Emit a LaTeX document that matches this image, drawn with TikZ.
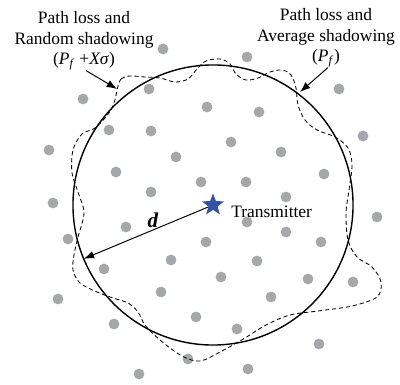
\documentclass[tikz,border=0pt]{standalone}
\usepackage{fontspec}
\setmainfont{Liberation Serif}
\usepackage{tikz}
\usetikzlibrary{shapes.geometric,arrows.meta,positioning,calc}

\definecolor{dotgray}{RGB}{166,167,170}
\definecolor{starblue}{RGB}{52,82,162}

\begin{document}
\begin{tikzpicture}[
    x=0.025cm, y=-0.025cm,
    lbl/.style={align=center, inner sep=0pt, font=\fontsize{12.4}{14.6}\selectfont},
    user/.style={circle, fill=dotgray, inner sep=0pt, minimum size=0.27cm},
    tx/.style={star, star points=5, star point ratio=2.4, fill=starblue, inner sep=0pt, minimum size=0.58cm},
    arr/.style={-{Latex[length=2.6mm, width=1.9mm]}, line width=0.7pt},
    rim/.style={line width=1pt},
    shadow/.style={line width=0.6pt, dash pattern=on 3pt off 2pt}
]
    \useasboundingbox (0,0) rectangle (400,385);

    % users spread over the area
    \foreach \x/\y [count=\k] in {163/49, 149/89, 83/99, 247/57, 339/89, 207/107, 259/112,
        109/130, 151/131, 49/150, 176/157, 116/172, 201/182, 151/192, 53/203, 126/227,
        68/239, 171/260, 231/142, 363/136, 281/152, 324/174, 246/182, 286/197, 377/217,
        247/222, 286/232, 206/242, 321/242, 257/261, 104/269, 161/292, 58/299, 196/317,
        114/324, 188/359, 139/374, 221/277, 308/279, 353/282, 271/297, 237/329, 319/344,
        248/369}
        \node [user] (u\k) at (\x,\y) {};

    % coverage: average and random shadowing
    \node [tx] (tx) at (213,205) {};
    \draw [rim] (tx.center) circle [radius=3.5cm];
    \draw [shadow] plot [smooth cycle, tension=0.55] coordinates {
        (117,90) (121,79) (130,76) (145,77) (160,78) (175,82) (188,79) (197,69)
        (206,61) (220,59) (230,64) (236,74) (246,80) (258,78) (270,72) (282,70)
        (291,75) (296,88) (298,105) (305,120) (317,130) (335,137) (348,148) (352,165)
        (349,190) (346,213) (348,240) (357,257) (372,267) (381,282) (377,297) (352,306)
        (318,311) (290,315) (266,325) (245,338) (220,352) (200,361) (182,356) (160,340)
        (145,325) (138,312) (128,303) (113,298) (97,292) (80,283) (73,270) (74,255)
        (78,237) (84,213) (78,192) (72,173) (73,150) (82,134) (95,128) (109,113) (115,100)};

    \node [lbl, anchor=base west] (txname) at (231,218) {Transmitter};
    \coordinate (edge) at ($(tx.center)+(202.6:3.5cm)$);
    \draw [arr] (tx) -- (edge);
    \node [font=\fontsize{15}{15}\selectfont\bfseries\itshape, inner sep=0pt] (dist) at (153,220) {d};

    % labels
    \node [lbl] (rnd) at (84,41) {Path loss and\\Random shadowing\\(\textit{P}\textsubscript{\textit{f}} +\textit{Xσ})};
    \node [lbl] (avg) at (326,38) {Path loss and\\Average shadowing\\(\textit{P}\textsubscript{\textit{f}})};
    \coordinate (rndtip) at (117,89);
    \coordinate (avgtip) at (300,92);
    \draw [arr] ([xshift=0.05cm]rnd.south) -- (rndtip);
    \draw [arr] ([xshift=0.05cm]avg.south) -- (avgtip);
\end{tikzpicture}
\end{document}
